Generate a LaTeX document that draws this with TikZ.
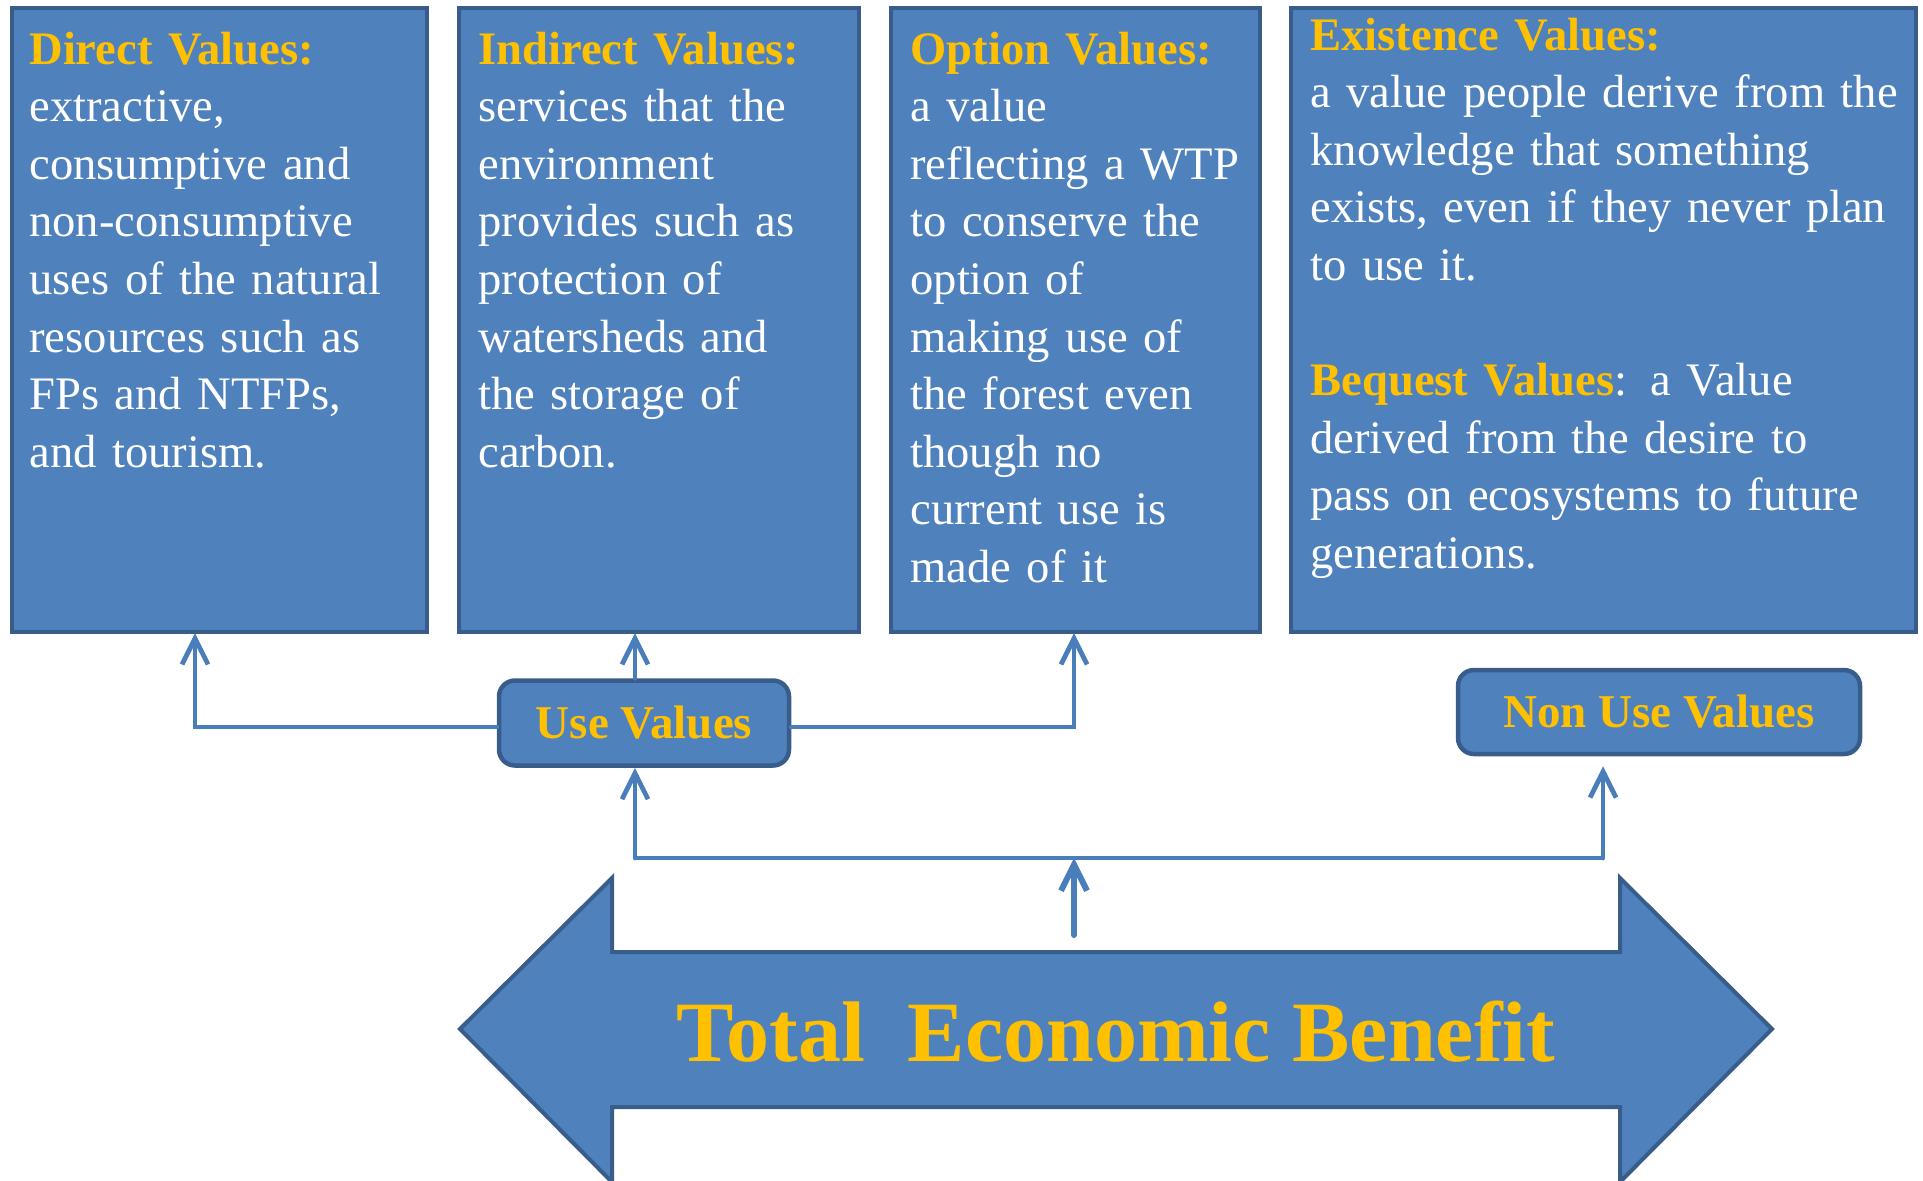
\documentclass[tikz,border=0pt]{standalone}
\usepackage{fontspec}
\setmainfont{Liberation Serif}
\usepackage{xcolor}
\usepackage{tikz}
\usetikzlibrary{arrows.meta}
\definecolor{boxblue}{HTML}{4F81BD}
\definecolor{boxedge}{HTML}{385D8A}
\definecolor{linkblue}{HTML}{4A7EBB}
\definecolor{gold}{HTML}{FFC000}
\tikzstyle{valbox} = [rectangle, draw=boxedge, fill=boxblue, line width=2pt, anchor=north west, inner sep=0pt]
\tikzstyle{valtext} = [text=white, font=\fontsize{23.3}{28.8}\selectfont, align=left, text width=320pt, anchor=base west, inner sep=0pt]
\tikzstyle{tag} = [rectangle, rounded corners=8pt, draw=boxedge, fill=boxblue, line width=2.25pt, text=gold, font=\fontsize{23.5}{27}\selectfont\bfseries]
\tikzstyle{arrow} = [line width=2.4pt, draw=linkblue, line cap=round, -{Straight Barb[length=13pt,width=13pt]}]
\tikzstyle{link} = [line width=2.4pt, draw=linkblue]
\tikzstyle{bigarrow} = [draw=boxedge, fill=boxblue, line width=2pt]
\newcommand{\valhead}[1]{\textcolor{gold}{\bfseries #1}}

\begin{document}
\begin{tikzpicture}[x=0.5pt, y=-0.5pt]
    \useasboundingbox (0,0) rectangle (1923,1180);

    % Boxes
    \node (dv) [valbox, minimum width=207.5pt, minimum height=312pt] at (10,6) {};
    \node (iv) [valbox, minimum width=200pt, minimum height=312pt] at (457,6) {};
    \node (ov) [valbox, minimum width=184.5pt, minimum height=312pt] at (889,6) {};
    \node (ev) [valbox, minimum width=312.5pt, minimum height=312pt] at (1289,6) {};

    % Texts
    \node (dvtext) [valtext] at (29,64) {\valhead{Direct Values:}\\ extractive,\\ consumptive and\\ non-consumptive\\ uses of the natural\\ resources such as\\ FPs and NTFPs,\\ and tourism.};
    \node (ivtext) [valtext] at (478,64) {\valhead{Indirect Values:}\\ services that the\\ environment\\ provides such as\\ protection of\\ watersheds and\\ the storage of\\ carbon.};
    \node (ovtext) [valtext] at (910,64) {\valhead{Option Values:}\\ a value\\ reflecting a WTP\\ to conserve the\\ option of\\ making use of\\ the forest even\\ though no\\ current use is\\ made of it};
    \node (evtext) [valtext] at (1310,50) {\valhead{Existence Values:}\\ a value people derive from the\\ knowledge that something\\ exists, even if they never plan\\ to use it.\\[28.8pt] \valhead{Bequest Values}: a Value\\ derived from the desire to\\ pass on ecosystems to future\\ generations.};

    % Tags
    \node (uv) [tag, minimum width=145pt, minimum height=42.5pt] at (644,723) {Use Values};
    \node (nuv) [tag, minimum width=201pt, minimum height=42pt] at (1659,712) {Non Use Values};

    % Total Economic Benefit
    \draw [bigarrow] (460,1029) -- (612,878) -- (612,952) -- (1620,952) -- (1620,878) -- (1772,1029)
        -- (1620,1182) -- (1620,1107) -- (612,1107) -- (612,1182) -- cycle;
    \node (teb) [text=gold, font=\fontsize{43}{50}\selectfont\bfseries, anchor=base] at (1116,1061) {Total\ \ Economic Benefit};

    % Connector points
    \coordinate (dvin) at (195,633);
    \coordinate (ivin) at (635,633);
    \coordinate (ovin) at (1074,633);
    \coordinate (jl) at (635,858);
    \coordinate (jm) at (1074,858);
    \coordinate (jr) at (1603,858);
    \coordinate (tebup) at (1074,935);

    % Arrows
    \draw [arrow] ([yshift=-2pt]uv.west) -| (dvin);
    \draw [arrow] (uv.north -| ivin) -- (ivin);
    \draw [arrow] ([yshift=-2pt]uv.east) -| (ovin);
    \draw [link] (jl) -- (jr);
    \draw [arrow] (jl) -- (uv.south -| jl);
    \draw [arrow] (jr) -- ([yshift=-5pt]nuv.south -| jr);
    \draw [arrow, line width=3pt] (tebup) -- (jm);

\end{tikzpicture}
\end{document}
